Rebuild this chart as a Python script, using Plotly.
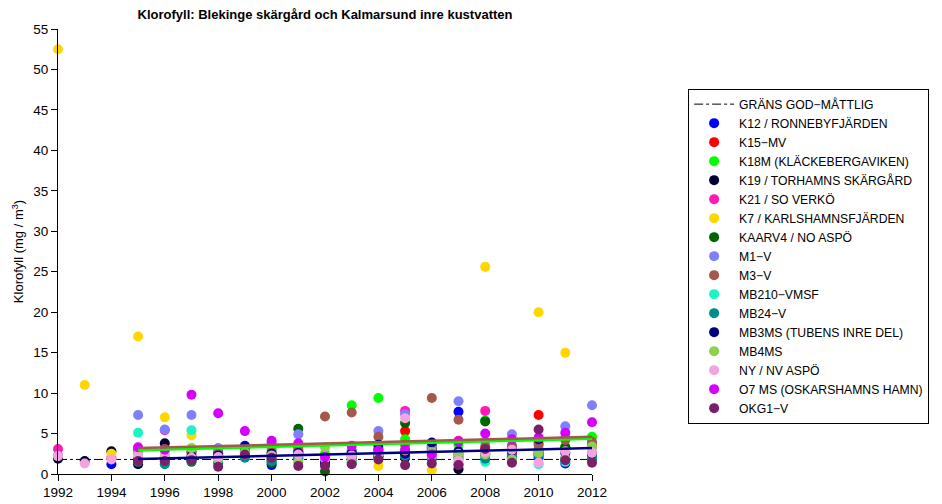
import plotly.graph_objects as go

# Klorofyll, Blekinge skärgård och Kalmarsund inre kustvatten (mg/m3)
years = list(range(1992, 2013))

stations = [
    "K12 / RONNEBYFJÄRDEN", "K15−MV", "K18M (KLÄCKEBERGAVIKEN)", "K19 / TORHAMNS SKÄRGÅRD",
    "K21 / SO VERKÖ", "K7 / KARLSHAMNSFJÄRDEN", "KAARV4 / NO ASPÖ", "M1−V", "M3−V",
    "MB210−VMSF", "MB24−V", "MB3MS (TUBENS INRE DEL)", "MB4MS", "NY / NV ASPÖ",
    "O7 MS (OSKARSHAMNS HAMN)", "OKG1−V",
]
colors = [
    "#0000FF", "#FF0000", "#00FF00", "#000033", "#FF1AB5", "#FFD700", "#006400", "#8080FF",
    "#A5574A", "#1BF5C5", "#008B8B", "#000080", "#90D050", "#F4A3E0", "#D500FF", "#7B1F6B",
]

N = None
k12 = [N, N, 1.2, 1.8, 1.6, 2.0, 2.1, 3.5, 1.1, 2.6, 1.2, 2.5, 3.0, 2.8, 3.2, 7.7, 2.5, 2.4, 2.0, 1.3, 2.2]
k15 = [N, N, N, N, N, N, N, N, N, 2.8, 1.8, 2.2, 2.6, 5.3, 3.1, 2.4, 2.9, 2.6, 7.3, 3.2, 3.6]
k18m = [N, N, N, 2.7, 3.0, 2.8, 2.9, 3.0, 3.1, 3.1, 2.5, 8.5, 9.4, 4.3, 3.3, 3.6, 6.6, 3.5, 2.8, 3.4, 4.6]
k19 = [1.9, 1.6, 2.8, 1.2, 3.8, 1.8, 2.6, 2.1, 1.8, 2.0, 1.4, 1.8, 2.2, 2.0, 3.5, 0.6, 2.4, 2.0, 2.6, 1.8, 2.0]
k21 = [3.1, N, 2.0, 3.1, 5.4, 2.6, 2.3, 2.6, 2.5, 3.3, 1.8, 2.8, 3.2, 7.8, 3.2, 4.1, 7.8, 3.5, 3.8, 4.4, 3.3]
k7 = [52.5, 11.0, 2.5, 17.0, 7.0, 4.8, N, N, N, N, N, N, 1.0, N, 0.5, N, 25.6, N, 20.0, 15.0, N]
kaarv4 = [N, N, N, N, N, 1.5, N, N, 1.4, 5.6, 0.3, 1.4, 2.2, 6.3, 2.9, 2.0, 6.5, 1.6, 2.4, 3.3, 2.2]
m1v = [2.3, N, N, 7.3, 5.5, 7.3, 3.2, 2.9, 3.8, 4.9, 1.6, 2.9, 5.3, 7.4, 3.4, 9.0, 4.0, 4.9, 3.1, 5.9, 8.5]
m3v = [N, N, N, 2.9, 3.1, 2.7, 2.5, 2.6, 2.7, 2.9, 7.1, 7.6, 4.6, 3.6, 9.4, 6.7, 3.4, 3.3, 3.6, 4.2, 4.0]
mb210 = [N, N, N, 5.1, 1.5, 5.4, 1.4, 2.1, 1.9, 2.2, N, 1.6, N, 2.3, N, 1.8, 1.5, 2.0, 1.2, 1.5, 1.9]
mb24 = [N, N, N, 1.5, 1.2, 1.6, 1.3, 2.0, 1.6, 1.8, 1.7, 1.9, 2.0, 2.2, 1.9, 1.2, 1.9, 2.2, 2.3, 1.9, 1.8]
mb3ms = [N, N, N, 1.8, 2.0, 2.2, 2.3, 3.3, 2.5, 2.6, 1.4, 2.6, 3.6, 2.5, 3.9, 2.8, 2.9, 2.9, 4.3, 2.6, 2.5]
mb4ms = [N, N, N, 2.6, 2.2, 3.2, 1.8, 2.7, 2.3, 1.5, 3.3, 1.8, 2.4, 2.9, 2.7, 2.5, 2.4, 1.8, 2.6, 1.9, 3.4]
ny_nv = [2.2, 1.3, 1.8, 2.2, 2.5, 2.0, 2.1, 2.4, 2.2, 2.4, 1.9, 2.3, 2.6, 6.9, 2.3, 1.6, 2.7, 3.0, 1.4, 2.8, 2.6]
o7ms = [N, N, N, 3.3, 3.0, 9.8, 7.5, 5.3, 4.1, 3.8, 2.1, 3.5, 2.9, 3.0, 2.4, 4.0, 5.0, 4.3, 4.5, 5.1, 6.4]
okg1 = [N, N, N, 1.6, 1.6, 1.7, 0.9, 2.4, 2.0, 1.0, 1.0, 1.2, 1.8, 1.1, 1.3, 1.1, 3.1, 1.4, 5.5, 1.7, 1.4]

values = [k12, k15, k18m, k19, k21, k7, kaarv4, m1v, m3v, mb210, mb24, mb3ms, mb4ms, ny_nv, o7ms, okg1]

# gränsvärde god/måttlig
grans = 1.8

# trendlinjer (start/slut)
trend_years = [1995, 2012]
trend_m3v = [3.2, 4.6]
trend_k18m = [2.95, 4.35]
trend_mb3ms = [1.85, 3.2]

fig = go.Figure()

fig.add_trace(go.Scatter(
    x=[years[0], years[-1]], y=[grans, grans], mode="lines",
    line=dict(color="black", width=1, dash="dashdot"),
    name="GRÄNS GOD−MÅTTLIG",
))

for name, col, vals in zip(stations, colors, values):
    fig.add_trace(go.Scatter(
        x=years, y=vals, mode="markers", name=name,
        marker=dict(color=col, size=10, line=dict(width=0)),
        cliponaxis=False,
    ))

for ty, col in [(trend_k18m, "#00FF00"), (trend_m3v, "#A5574A"), (trend_mb3ms, "#000080")]:
    fig.add_trace(go.Scatter(
        x=trend_years, y=ty, mode="lines", showlegend=False,
        line=dict(color=col, width=2.5),
    ))

# sidan ritas med 8 px marginal i webbläsaren, därför är marginalerna förskjutna
fig.update_layout(
    width=942, height=504,
    margin=dict(l=50, r=358, t=21, b=38, autoexpand=False),
    paper_bgcolor="white", plot_bgcolor="white",
    font=dict(family="Liberation Sans, Arial, sans-serif", size=13, color="black"),
    title=dict(
        text="<b>Klorofyll: Blekinge skärgård och Kalmarsund inre kustvatten</b>",
        x=317 / 942, xanchor="center", y=1 - 2 / 504, yanchor="top", pad=dict(t=0),
        font=dict(size=13),
    ),
    xaxis=dict(
        range=[1992, 2012], tickvals=list(range(1992, 2013, 2)),
        showgrid=False, zeroline=False, showline=True, linecolor="black",
        ticks="outside", ticklen=6, tickcolor="black", automargin=False,
        tickfont=dict(size=13.5),
    ),
    yaxis=dict(
        range=[0, 55], tickvals=list(range(0, 56, 5)),
        showgrid=False, zeroline=False, showline=True, linecolor="black",
        ticks="outside", ticklen=6, tickcolor="black", automargin=False,
        tickfont=dict(size=13.5),
        title=dict(text="Klorofyll (mg / m<sup>3</sup>)", standoff=6, font=dict(size=13)),
    ),
    legend=dict(
        x=1.18, y=0.866, xanchor="left", yanchor="top",
        bordercolor="black", borderwidth=1, bgcolor="white",
        font=dict(size=12.2), tracegroupgap=0, itemwidth=40,
    ),
)

fig.write_html("out.html")
